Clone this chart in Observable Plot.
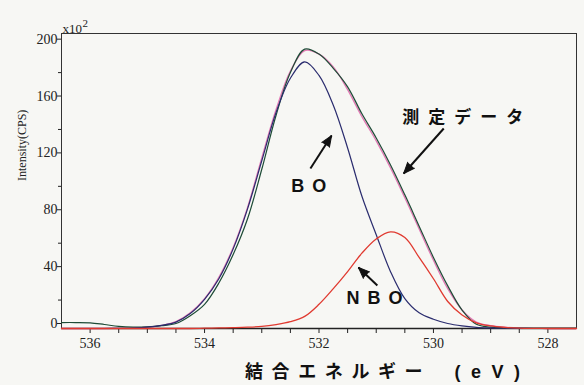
<!DOCTYPE html>
<html><head><meta charset="utf-8">
<script src="https://cdn.jsdelivr.net/npm/d3@7"></script>
<script src="https://cdn.jsdelivr.net/npm/@observablehq/plot@0.6"></script>
<style>body{margin:0;background:#f7f7f4;}</style>
</head><body><div id="chart"></div>
<script>
// Binding energy grid (eV)
const energy = [536.5,536.25,536.0,535.75,535.5,535.25,535.0,534.75,534.5,534.25,534.0,533.75,533.5,533.25,533.0,532.75,532.5,532.25,532.0,531.75,531.5,531.25,531.0,530.75,530.5,530.25,530.0,529.75,529.5,529.25,529.0,528.75,528.5,528.25,528.0,527.75,527.5];
// Intensity (x10^2 CPS)
const measured = [4.2,4.2,4.0,2.8,1.5,1.0,1.2,2.0,3.5,9,17,32,52,77,112,150,180,196.5,193,183,170,151,134,115,94,72,50,30,13,3,1,0.5,0.3,0.2,0.2,0.2,0.2];
const envelope = [0,0,0,0,0.1,0.3,0.9,2.2,4.8,11,21,36,57,85,120,154,181,195.5,193,184,168,149,132,113,92,70,48,28,13,4.5,2,0.9,0.3,0.1,0,0,0];
const bo = [0,0,0,0,0.1,0.3,0.9,2.2,4.5,10.5,20.5,35,56,84,118,152,176,187.5,178,157,127,93,66,40,21,11,6.5,3.5,1.8,0.8,0.4,0.2,0.1,0,0,0,0];
const nbo = [0,0,0,0,0,0,0,0,0,0,0.2,0.4,0.6,0.9,1.5,2.8,4.8,8.5,17,28,40,53,63,68,64,50,35,19,9.5,4,1.8,0.8,0.3,0.1,0,0,0];

const yTicks = [0,40,80,120,160,200];
const yMinor = [20,60,100,140,180];
const xTicks = [536,534,532,530,528];
const xMinor = [535.5,535,534.5,533.5,533,532.5,531.5,531,530.5,529.5,529,528.5];

// Annotations (data coordinates)
const cjkLabels = [{text: "測定データ", e: 529.41, v: 148.4}];
const latinLabels = [{text: "BO", e: 532.11, v: 99.9}, {text: "NBO", e: 530.96, v: 21.1}];
const arrows = [
  {e1: 529.82, v1: 140.7, e2: 530.52, v2: 109.0},
  {e1: 532.15, v1: 112.5, e2: 531.78, v2: 135.7},
  {e1: 530.98, v1: 30.2, e2: 531.31, v2: 42.9}
];

const W = 584, H = 385, ML = 61, MR = 8, MT = 33, MB = 57;
const xDom = [536.5, 527.5], yDom = [0, 207.5];
const kx = (W - ML - MR) / (xDom[0] - xDom[1]);
const ky = (H - MT - MB) / (yDom[1] - yDom[0]);
arrows.forEach(a => {
  const dx = -(a.e2 - a.e1) * kx, dy = -(a.v2 - a.v1) * ky;
  a.rot = Math.atan2(dx, -dy) * 180 / Math.PI;
});

const series = arr => energy.map((e, i) => ({e, v: arr[i]}));
const serif = "'Liberation Serif', 'Times New Roman', serif";
const cjk = "'Noto Sans CJK JP', sans-serif";
const sans = "'Liberation Sans', Arial, sans-serif";
const xTitle = "結合エネルギー";
const xUnit = "(eV)";

const chart = Plot.plot({
  width: W, height: H,
  marginLeft: ML, marginRight: MR, marginTop: MT, marginBottom: MB,
  x: {domain: xDom, label: null},
  y: {domain: yDom, label: null},
  style: {background: "#f7f7f4", fontFamily: serif, fontSize: "13px", color: "#222"},
  marks: [
    Plot.frame({stroke: "#333", strokeWidth: 1}),
    Plot.axisY(yTicks, {tickSize: 4, tickPadding: 0, dy: -5, label: null, fontSize: 14, fontFamily: serif}),
    Plot.axisY(yMinor, {tickSize: 3, tickFormat: () => "", label: null}),
    Plot.axisX(xTicks, {tickSize: 5, tickPadding: 5, label: null, fontSize: 14, fontFamily: serif}),
    Plot.axisX(xMinor, {tickSize: 5, tickFormat: () => "", label: null}),
    Plot.ruleY([0], {stroke: "#222", strokeWidth: 1.5}),
    Plot.line(series(envelope), {x: "e", y: "v", stroke: "#e27ab4", strokeWidth: 1.3, curve: "catmull-rom"}),
    Plot.line(series(measured), {x: "e", y: "v", stroke: "#1d4b36", strokeWidth: 1.2, curve: "catmull-rom"}),
    Plot.line(series(bo), {x: "e", y: "v", stroke: "#2a2c6e", strokeWidth: 1.2, curve: "catmull-rom"}),
    Plot.line(series(nbo), {x: "e", y: "v", stroke: "#e03a30", strokeWidth: 1.3, curve: "catmull-rom"}),
    Plot.link(arrows, {x1: "e1", y1: "v1", x2: "e2", y2: "v2", stroke: "#111", strokeWidth: 2}),
    Plot.vector(arrows, {x: "e2", y: "v2", rotate: "rot", length: 11, r: 4.5, shape: "spike", anchor: "end", fill: "#111", stroke: "#111", strokeWidth: 1}),
    Plot.text(cjkLabels, {x: "e", y: "v", text: "text", fontFamily: cjk, fontWeight: "bold", fontSize: 17, fill: "#111"}),
    Plot.text(latinLabels, {x: "e", y: "v", text: "text", fontFamily: sans, fontWeight: "bold", fontSize: 18, fill: "#111"}),
    Plot.text(["x10"], {frameAnchor: "top-left", dx: 1, dy: -1, lineAnchor: "bottom", textAnchor: "start", fontSize: 13, fontFamily: serif, fill: "#222"}),
    Plot.text(["2"], {frameAnchor: "top-left", dx: 21, dy: -7, lineAnchor: "bottom", textAnchor: "start", fontSize: 11, fontFamily: serif, fill: "#222"}),
    Plot.text(["Intensity(CPS)"], {frameAnchor: "left", dx: -39, rotate: -90, fontSize: 12, fontFamily: serif, fill: "#222"}),
    Plot.text([xTitle], {frameAnchor: "bottom-left", dx: 183.5, dy: 43.5, lineAnchor: "middle", textAnchor: "start", fontSize: 18, fontWeight: "bold", fontFamily: cjk, fill: "#111"}),
    Plot.text([xUnit], {frameAnchor: "bottom-left", dx: 393, dy: 43.5, lineAnchor: "middle", textAnchor: "start", fontSize: 18, fontWeight: "bold", fontFamily: sans, fill: "#111"})
  ]
});
const spacing = {"測定データ": "9px", "BO": "8px", "NBO": "8px"};
spacing[xTitle] = "8.6px";
spacing[xUnit] = "10.5px";
d3.select(chart).selectAll("text").each(function() {
  const s = spacing[this.textContent];
  if (s) this.setAttribute("letter-spacing", s);
});
document.getElementById("chart").append(chart);
</script>
</body></html>
